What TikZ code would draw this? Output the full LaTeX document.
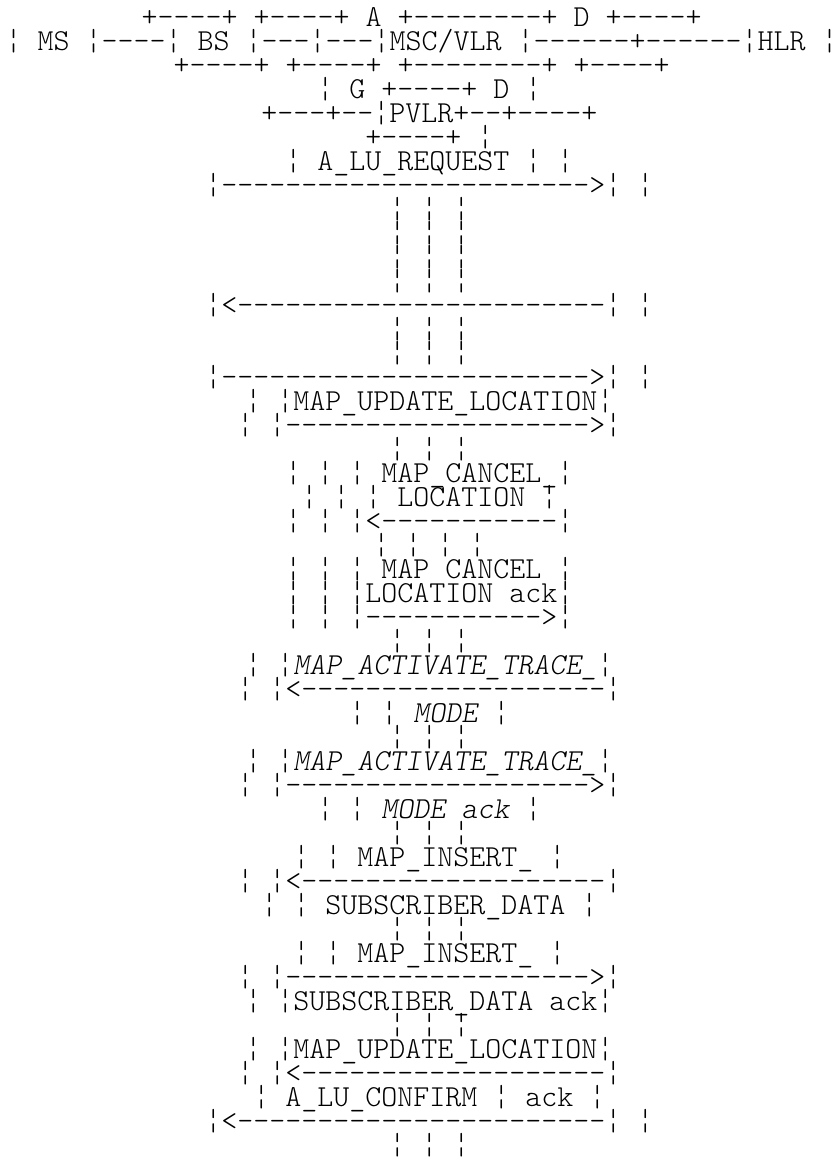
\documentclass[tikz,border=0pt]{standalone}
\begin{document}
\begin{tikzpicture}[x=0.75pt,y=-0.75pt,
  ln/.style={anchor=base, inner sep=0pt, font=\ttfamily\fontseries{l}\fontsize{22.857pt}{18pt}\selectfont}]
\fill[white] (0,0) rectangle (834,1160);
\useasboundingbox (0,0) rectangle (834,1160);
\node[ln] (l1) at (421.7,26.7) {+----+ +----+ A +--------+ D +----+};
\node[ln] (l2) at (421.7,50.7) {¦ MS ¦----¦ BS ¦---¦---¦MSC/VLR ¦------+------¦HLR ¦};
\node[ln] (l3) at (421.7,74.7) {+----+ +----+ +--------+ +----+};
\node[ln] (l4) at (429.4,98.7) {¦ G +----+ D ¦};
\node[ln] (l5) at (429.4,122.7) {+---+--¦PVLR+--+----+};
\node[ln] (l6) at (429.4,146.7) {+----+ ¦};
\node[ln] (l7) at (429.4,170.7) {¦ A\_LU\_REQUEST ¦ ¦};
\node[ln] (l8) at (429.4,194.7) {¦----------------------->¦ ¦};
\node[ln] (l9) at (429.4,218.7) {¦ ¦ ¦};
\node[ln] (l10) at (429.4,242.7) {¦ ¦ ¦};
\node[ln] (l11) at (429.4,266.7) {¦ ¦ ¦};
\node[ln] (l12) at (429.4,290.7) {¦ ¦ ¦};
\node[ln] (l13) at (429.4,314.7) {¦<-----------------------¦ ¦};
\node[ln] (l14) at (429.4,338.7) {¦ ¦ ¦};
\node[ln] (l15) at (429.4,362.7) {¦ ¦ ¦};
\node[ln] (l16) at (429.4,386.7) {¦----------------------->¦ ¦};
\node[ln] (l17) at (429.4,410.7) {¦ ¦MAP\_UPDATE\_LOCATION¦};
\node[ln] (l18) at (429.4,434.7) {¦ ¦------------------->¦};
\node[ln] (l19) at (429.4,458.7) {¦ ¦ ¦};
\node[ln] (l20) at (429.4,482.7) {¦ ¦ ¦ MAP\_CANCEL\_¦};
\node[ln] (l21) at (429.4,506.7) {¦ ¦ ¦ LOCATION ¦};
\node[ln] (l22) at (429.4,530.7) {¦ ¦ ¦<-----------¦};
\node[ln] (l23) at (429.4,554.7) {¦ ¦ ¦ ¦};
\node[ln] (l24) at (429.4,578.7) {¦ ¦ ¦ MAP CANCEL ¦};
\node[ln] (l25) at (429.4,602.7) {¦ ¦ ¦LOCATION ack¦};
\node[ln] (l26) at (429.4,626.7) {¦ ¦ ¦----------->¦};
\node[ln] (l27) at (429.4,650.7) {¦ ¦ ¦};
\node[ln] (l28) at (429.4,674.7) {¦ ¦{\slshape MAP\_ACTIVATE\_TRACE\_}¦};
\node[ln] (l29) at (429.4,698.7) {¦ ¦<-------------------¦};
\node[ln] (l30) at (429.4,722.7) {¦ ¦ {\slshape MODE} ¦};
\node[ln] (l31) at (429.4,746.7) {¦ ¦ ¦};
\node[ln] (l32) at (429.4,770.7) {¦ ¦{\slshape MAP\_ACTIVATE\_TRACE\_}¦};
\node[ln] (l33) at (429.4,794.7) {¦ ¦------------------->¦};
\node[ln] (l34) at (429.4,818.7) {¦ ¦ {\slshape MODE ack} ¦};
\node[ln] (l35) at (429.4,842.7) {¦ ¦ ¦};
\node[ln] (l36) at (429.4,866.7) {¦ ¦ MAP\_INSERT\_ ¦};
\node[ln] (l37) at (429.4,890.7) {¦ ¦<-------------------¦};
\node[ln] (l38) at (429.4,914.7) {¦ ¦ SUBSCRIBER\_DATA ¦};
\node[ln] (l39) at (429.4,938.7) {¦ ¦ ¦};
\node[ln] (l40) at (429.4,962.7) {¦ ¦ MAP\_INSERT\_ ¦};
\node[ln] (l41) at (429.4,986.7) {¦ ¦------------------->¦};
\node[ln] (l42) at (429.4,1010.7) {¦ ¦SUBSCRIBER\_DATA ack¦};
\node[ln] (l43) at (429.4,1034.7) {¦ ¦ ¦};
\node[ln] (l44) at (429.4,1058.7) {¦ ¦MAP\_UPDATE\_LOCATION¦};
\node[ln] (l45) at (429.4,1082.7) {¦ ¦<-------------------¦};
\node[ln] (l46) at (429.4,1106.7) {¦ A\_LU\_CONFIRM ¦ ack ¦};
\node[ln] (l47) at (429.4,1130.7) {¦<-----------------------¦ ¦};
\node[ln] (l48) at (429.4,1154.7) {¦ ¦ ¦};
\end{tikzpicture}
\end{document}
